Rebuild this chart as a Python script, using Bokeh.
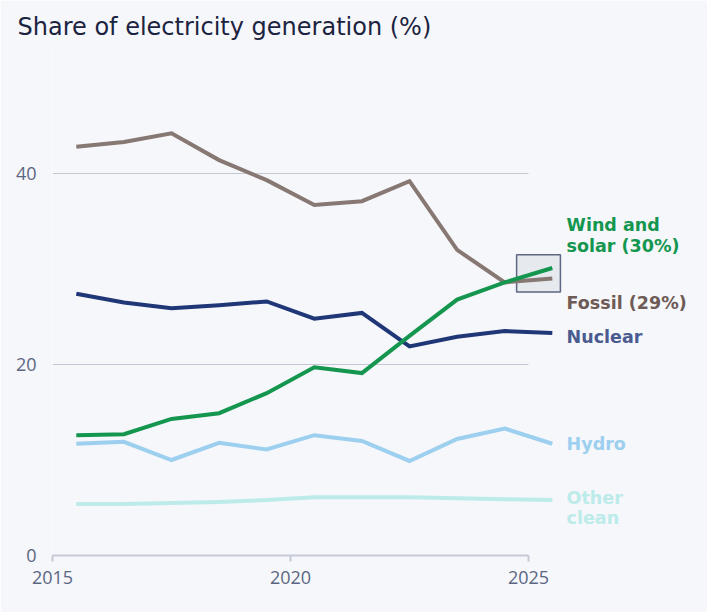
from bokeh.plotting import figure
from bokeh.models import ColumnDataSource, FixedTicker, Range1d
from bokeh.embed import file_html
from bokeh.resources import INLINE
from bokeh.core.properties import value

# ---- data ----
years = [2015, 2016, 2017, 2018, 2019, 2020, 2021, 2022, 2023, 2024, 2025]
fossil = [42.8, 43.3, 44.2, 41.4, 39.3, 36.7, 37.1, 39.2, 32.0, 28.6, 29.0]
nuclear = [27.4, 26.5, 25.9, 26.2, 26.6, 24.8, 25.4, 21.9, 22.9, 23.5, 23.3]
wind_solar = [12.6, 12.7, 14.3, 14.9, 17.0, 19.7, 19.1, 23.0, 26.8, 28.6, 30.1]
hydro = [11.7, 11.9, 10.0, 11.8, 11.1, 12.6, 12.0, 9.9, 12.2, 13.3, 11.7]
other_clean = [5.4, 5.4, 5.5, 5.6, 5.8, 6.1, 6.1, 6.1, 6.0, 5.9, 5.8]

series_names = ["Other clean", "Hydro", "Nuclear", "Fossil", "Wind and solar"]
label_texts = ["Other\nclean", "Hydro", "Nuclear", "Fossil (29%)", "Wind and\nsolar (30%)"]
label_y = [5.0, 11.7, 22.9, 26.4, 33.5]
y_ticks = [0, 20, 40]
x_ticks = [2015, 2020, 2025]

line_colors = ["#bcebe9", "#9dcfef", "#1f3677", "#877873", "#14964f"]
label_colors = ["#bcebe9", "#9dcfef", "#4a5b90", "#6e5b56", "#14964f"]

BG = "#f5f7fb"
TICK_TEXT = "#5c6682"

x_mid = [y + 0.5 for y in years]

p = figure(width=707, height=612, output_backend="svg", toolbar_location=None,
           x_range=Range1d(2015, 2028.76), y_range=Range1d(0, 53.4),
           min_border_left=52, min_border_right=0, min_border_top=45, min_border_bottom=57)
p.background_fill_color = BG
p.border_fill_color = BG
p.outline_line_color = None
p.xgrid.visible = False
p.ygrid.visible = False

p.title.text = "Share of electricity generation (%)"
p.title.align = "left"
p.title.offset = -35
p.title.standoff = 10
p.title.text_font = "DejaVu Sans"
p.title.text_font_size = "24px"
p.title.text_font_style = "normal"
p.title.text_color = "#1c2340"

# horizontal guide lines
gl = [t for t in y_ticks if t > 0]
p.segment(x0=[x_ticks[0]] * len(gl), x1=[x_ticks[-1]] * len(gl), y0=gl, y1=gl,
          line_color="#c3c8d4", line_width=1.2)

# highlight box around latest values
p.quad(left=[2024.75], right=[2025.67], bottom=[27.6], top=[31.5],
       fill_color="#e6e9ee", line_color="#5d6782", line_width=1.5)

series = [other_clean, hydro, nuclear, fossil, wind_solar]
for vals, col in zip(series, line_colors):
    p.line(x_mid, vals, line_color=col, line_width=4, line_join="miter")

src = ColumnDataSource(dict(x=[x_mid[-1] + 0.3] * len(label_texts), y=label_y,
                            text=label_texts, color=label_colors))
p.text(x="x", y="y", text="text", source=src, text_color="color",
       text_font=value("DejaVu Sans"), text_font_size="17.5px", text_font_style="bold",
       text_baseline="middle", text_align="left", text_line_height=1.02)

# axes
p.xaxis.ticker = FixedTicker(ticks=x_ticks)
p.xaxis.bounds = (x_ticks[0], x_ticks[-1])
p.xaxis.axis_line_color = "#c5cad6"
p.xaxis.axis_line_width = 2
p.xaxis.major_tick_line_color = "#c5cad6"
p.xaxis.major_tick_line_width = 2
p.xaxis.major_tick_in = 0
p.xaxis.major_tick_out = 6
p.xaxis.minor_tick_line_color = None
p.xaxis.major_label_standoff = 9
p.xaxis.major_label_text_font = "Open Sans"
p.xaxis.major_label_text_font_size = "18px"
p.xaxis.major_label_text_color = TICK_TEXT

p.yaxis.ticker = FixedTicker(ticks=y_ticks)
p.yaxis.axis_line_color = None
p.yaxis.major_tick_line_color = None
p.yaxis.minor_tick_line_color = None
p.yaxis.major_label_standoff = 10
p.yaxis.major_label_text_font = "Open Sans"
p.yaxis.major_label_text_font_size = "18px"
p.yaxis.major_label_text_color = TICK_TEXT

open("out.html", "w").write(file_html(p, INLINE))
